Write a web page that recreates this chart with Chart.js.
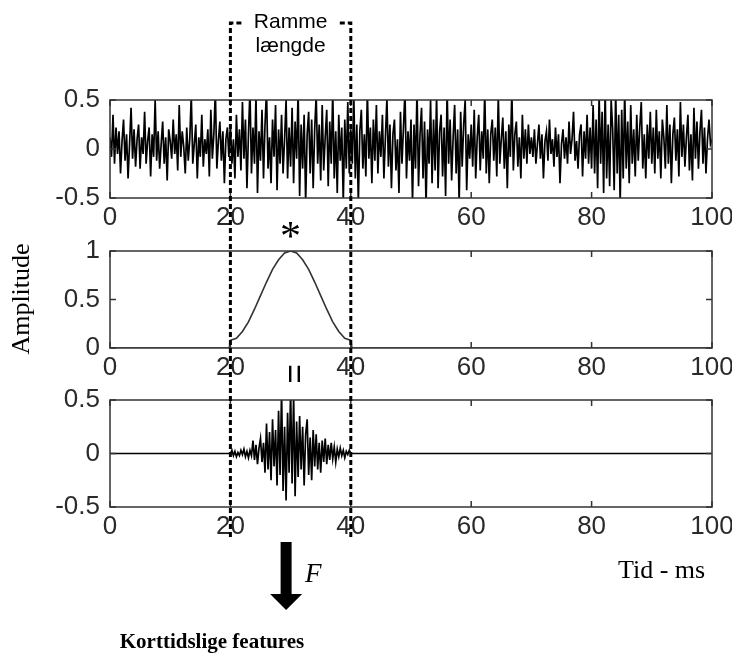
<!DOCTYPE html>
<html><head><meta charset="utf-8">
<script src="https://cdn.jsdelivr.net/npm/chart.js@4/dist/chart.umd.min.js"></script>
<style>
html,body{margin:0;padding:0;background:#fff;}
#wrap{position:relative;width:732px;height:653px;overflow:hidden;background:#fff;}
#wrap canvas{position:absolute;left:0;top:0;}
</style></head><body>
<div id="wrap">
<canvas id="c1" width="732" height="653"></canvas>
<canvas id="c2" width="732" height="653"></canvas>
<canvas id="c3" width="732" height="653"></canvas>
</div>
<script>
// ---- data ----
const xTicks = [0, 20, 40, 60, 80, 100];
const sampleStep = 0.25; // ms between samples
// top panel: speech-like noise signal, samples every 0.25 ms from 0 to 100 ms
const signalValues = [
 0.12,-0.08,0.35,-0.15,0.22,-0.05,0.18,-0.25,0.08,0.30,-0.12,0.15,-0.30,0.05,0.42,-0.10,0.20,-0.18,0.10,0.25,
 -0.20,0.12,-0.05,0.38,-0.15,0.08,0.22,-0.28,0.15,-0.08,0.50,-0.12,0.18,-0.20,0.05,0.28,-0.15,0.12,-0.32,0.20,
 0.08,-0.10,0.30,-0.05,0.15,-0.22,0.45,-0.08,0.18,0.02,-0.25,0.22,-0.12,0.10,0.55,-0.15,0.05,0.25,-0.30,0.12,
 -0.08,0.35,-0.18,0.10,-0.05,0.20,-0.28,0.40,-0.10,0.15,0.60,-0.20,0.08,0.28,-0.12,0.18,-0.35,0.10,0.22,-0.08,
 0.25,-0.15,0.10,-0.30,0.35,-0.08,0.20,-0.22,0.48,-0.10,0.30,-0.40,0.15,0.60,-0.25,0.22,-0.15,0.55,-0.45,0.18,
 -0.12,0.40,-0.30,0.25,0.60,-0.20,0.12,-0.35,0.30,-0.08,0.45,-0.42,0.20,-0.15,0.35,-0.25,0.10,0.50,-0.30,0.22,
 -0.18,0.42,-0.35,0.28,-0.10,0.60,-0.48,0.25,-0.20,0.35,-0.55,0.15,0.38,-0.25,0.30,-0.40,0.20,0.55,-0.15,0.25,
 -0.32,0.45,-0.22,0.12,0.40,-0.38,0.28,-0.15,0.60,-0.30,0.18,-0.45,0.35,-0.12,0.22,-0.55,0.30,-0.20,0.48,-0.25,
 0.20,-0.15,0.55,-0.30,0.25,-0.55,0.18,0.40,-0.20,0.15,-0.28,0.60,-0.10,0.22,-0.35,0.30,-0.12,0.45,-0.25,0.18,
 -0.08,0.35,-0.30,0.12,0.52,-0.18,0.25,-0.40,0.15,0.30,-0.22,0.10,-0.45,0.38,-0.15,0.22,0.60,-0.30,0.18,-0.12,
 0.30,-0.55,0.25,-0.20,0.60,-0.38,0.15,0.42,-0.30,0.28,-0.58,0.20,-0.15,0.50,-0.35,0.30,-0.22,0.55,-0.40,0.18,
 0.35,-0.28,0.22,-0.48,0.60,-0.15,0.30,-0.32,0.12,0.45,-0.25,0.20,-0.55,0.38,-0.18,0.25,0.50,-0.42,0.15,-0.10,
 0.25,-0.18,0.40,-0.30,0.12,0.35,-0.22,0.18,-0.10,0.60,-0.25,0.20,-0.35,0.15,0.30,-0.12,0.22,-0.28,0.55,-0.15,
 0.10,0.32,-0.20,0.18,-0.40,0.25,-0.08,0.60,-0.22,0.15,0.28,-0.18,0.12,-0.30,0.35,-0.10,0.20,-0.15,0.25,-0.05,
 0.12,-0.08,0.20,-0.15,0.05,0.25,-0.10,0.15,-0.30,0.08,0.18,-0.12,0.30,-0.05,0.10,-0.18,0.22,-0.08,0.15,-0.35,
 0.05,0.20,-0.10,0.12,-0.15,0.28,-0.05,0.10,0.38,-0.12,0.08,-0.20,0.15,0.25,-0.28,0.18,-0.10,0.35,-0.15,0.22,
 -0.20,0.45,-0.25,0.30,-0.40,0.55,-0.15,0.38,-0.45,0.60,-0.30,0.25,-0.38,0.50,0.20,-0.42,0.60,-0.25,0.35,-0.55,
 0.40,-0.30,0.60,-0.20,0.28,-0.35,0.45,-0.15,0.20,-0.28,0.35,-0.12,0.22,0.48,-0.20,0.15,-0.30,0.25,-0.10,0.38,
 -0.15,0.22,-0.25,0.40,-0.10,0.18,-0.30,0.30,0.12,-0.20,0.45,-0.15,0.25,-0.35,0.15,0.32,-0.12,0.20,-0.28,0.48,
 -0.08,0.25,-0.18,0.12,0.35,-0.22,0.15,-0.32,0.42,-0.10,0.28,-0.20,0.18,0.40,-0.15,0.22,-0.25,0.10,0.30,0.05,
 0.10
];
// middle panel: analysis window (Hamming-like), time in ms and amplitude
const windowTimes  = [0, 19.8, 20, 21, 22, 23, 24, 25, 26, 27, 28, 29, 30, 31, 32, 33, 34, 35, 36, 37, 38, 39, 40, 40.2, 100];
const windowValues = [0, 0, 0.08, 0.10, 0.17, 0.27, 0.40, 0.54, 0.68, 0.81, 0.91, 0.98, 1.00, 0.98, 0.91, 0.81, 0.68, 0.54, 0.40, 0.27, 0.17, 0.10, 0.08, 0, 0];
// bottom panel: windowed frame, samples every 0.25 ms from 20 to 40 ms
const frameStart = 20;
const frameValues = [
 0.00,0.03,-0.02,0.02,-0.03,0.01,-0.02,0.03,
 -0.01,0.04,-0.03,0.02,-0.04,0.03,-0.02,0.12,
 -0.06,0.08,-0.10,0.05,0.14,-0.08,0.10,-0.18,
 0.28,-0.15,0.20,-0.25,0.32,-0.12,0.22,-0.30,
 0.40,-0.20,0.58,-0.35,0.25,-0.44,0.38,-0.18,
 0.60,-0.28,0.55,-0.40,0.30,-0.22,0.35,-0.15,
 0.25,-0.30,0.18,0.32,-0.20,0.15,-0.25,0.22,
 -0.12,0.18,-0.15,0.10,-0.18,0.12,-0.08,0.14,
 -0.10,0.08,-0.06,0.10,-0.05,0.06,-0.08,0.04,
 -0.03,0.05,-0.02,0.03,-0.04,0.02,-0.01,0.03,
 0.00
];
const axisStart = 0, axisEnd = 100;

// ---- build point lists ----
const signalPoints = signalValues.map((v, i) => ({x: i * sampleStep, y: v}));
const windowPoints = windowTimes.map((t, i) => ({x: t, y: windowValues[i]}));
const framePoints = [{x: axisStart, y: 0}]
  .concat(frameValues.map((v, i) => ({x: frameStart + i * sampleStep, y: v})))
  .concat([{x: axisEnd, y: 0}]);

const TICK_FONT = {family: "'Liberation Sans', Arial, sans-serif", size: 26};
const TICK_COLOR = '#2a2a2a';

const boxPlugin = {
  id: 'box',
  afterDatasetsDraw(chart) {
    const {ctx, chartArea: a, scales: {x, y}} = chart;
    ctx.save();
    ctx.strokeStyle = '#333';
    ctx.lineWidth = 1.5;
    ctx.strokeRect(a.left, a.top, a.right - a.left, a.bottom - a.top);
    ctx.beginPath();
    x.ticks.forEach(t => {
      const p = x.getPixelForValue(t.value);
      ctx.moveTo(p, a.bottom); ctx.lineTo(p, a.bottom - 6);
      ctx.moveTo(p, a.top); ctx.lineTo(p, a.top + 6);
    });
    y.ticks.forEach(t => {
      const p = y.getPixelForValue(t.value);
      ctx.moveTo(a.left, p); ctx.lineTo(a.left + 6, p);
      ctx.moveTo(a.right, p); ctx.lineTo(a.right - 6, p);
    });
    ctx.stroke();
    ctx.restore();
  }
};

const overlayPlugin = {
  id: 'overlay',
  afterDraw(chart) {
    const {ctx, scales: {x}} = chart;
    const xl = x.getPixelForValue(20), xr = x.getPixelForValue(40);
    const topY = 23, botY = 537;
    ctx.save();
    // dashed frame
    ctx.strokeStyle = '#000';
    ctx.lineWidth = 3;
    ctx.setLineDash([5, 3]);
    ctx.beginPath();
    ctx.moveTo(xl, botY); ctx.lineTo(xl, topY); ctx.lineTo(xl + 13, topY);
    ctx.moveTo(xr - 11, topY); ctx.lineTo(xr, topY); ctx.lineTo(xr, botY);
    ctx.stroke();
    ctx.setLineDash([]);
    const cx = (xl + xr) / 2;
    ctx.fillStyle = '#000';
    ctx.textAlign = 'center';
    ctx.textBaseline = 'alphabetic';
    ctx.font = "21px 'Liberation Sans', Arial, sans-serif";
    ctx.fillText('Ramme', cx, 28);
    ctx.fillText('længde', cx, 52);
    // asterisk
    ctx.font = "42px 'Liberation Serif', 'Times New Roman', serif";
    ctx.fillText('*', cx, 250);
    // rotated equals
    ctx.save();
    ctx.translate(cx + 1, 374);
    ctx.rotate(Math.PI / 2);
    ctx.font = "33px 'Liberation Sans', Arial, sans-serif";
    ctx.textBaseline = 'middle';
    ctx.fillText('=', 0, 0);
    ctx.restore();
    // y label
    ctx.save();
    ctx.translate(29, 299);
    ctx.rotate(-Math.PI / 2);
    ctx.font = "26px 'Liberation Serif', 'Times New Roman', serif";
    ctx.textBaseline = 'alphabetic';
    ctx.fillText('Amplitude', 0, 0);
    ctx.restore();
    // x label
    ctx.textAlign = 'left';
    ctx.font = "26px 'Liberation Serif', 'Times New Roman', serif";
    ctx.fillText('Tid - ms', 618, 578);
    // arrow
    const ax = cx - 4.5;
    ctx.fillRect(ax - 5.5, 542, 11, 53);
    ctx.beginPath();
    ctx.moveTo(ax - 16, 594); ctx.lineTo(ax + 16, 594); ctx.lineTo(ax, 610); ctx.closePath();
    ctx.fill();
    ctx.font = "italic 27px 'Liberation Serif', 'Times New Roman', serif";
    ctx.fillText('F', 305, 582);
    ctx.textAlign = 'center';
    ctx.font = "bold 21px 'Liberation Serif', 'Times New Roman', serif";
    ctx.fillText('Korttidslige features', 212, 648);
    ctx.restore();
  }
};

function makePanel(id, dataset, yMin, yMax, top, bottom, extra) {
  return new Chart(document.getElementById(id), {
    type: 'line',
    data: {datasets: [dataset]},
    options: {
      responsive: false,
      animation: false,
      devicePixelRatio: 1,
      events: [],
      layout: {padding: {top: top, bottom: 653 - bottom - 40, left: 0, right: 20}},
      plugins: {legend: {display: false}, tooltip: {enabled: false}},
      elements: {point: {radius: 0}, line: {tension: 0}},
      scales: {
        x: {
          type: 'linear', min: axisStart, max: axisEnd,
          afterBuildTicks: s => { s.ticks = xTicks.map(v => ({value: v})); },
          ticks: {font: TICK_FONT, color: TICK_COLOR, padding: 4, maxRotation: 0, autoSkip: false},
          grid: {display: false, drawTicks: false},
          border: {display: false},
          afterFit: s => { s.height = 40; s.paddingLeft = 0; s.paddingRight = 0; }
        },
        y: {
          min: yMin, max: yMax,
          ticks: {stepSize: 0.5, font: TICK_FONT, color: TICK_COLOR, padding: 10,
                  callback: v => String(v)},
          grid: {display: false, drawTicks: false},
          border: {display: false},
          afterFit: s => { s.width = 110; s.paddingTop = 0; s.paddingBottom = 0; }
        }
      }
    },
    plugins: [boxPlugin].concat(extra || [])
  });
}

makePanel('c1', {data: signalPoints, borderColor: '#000', borderWidth: 1.7, pointRadius: 0}, -0.5, 0.5, 100, 198);
makePanel('c2', {data: windowPoints, borderColor: '#333', borderWidth: 1.6, pointRadius: 0}, 0, 1, 251, 348);
makePanel('c3', {data: framePoints, borderColor: '#000', borderWidth: 1.7, pointRadius: 0}, -0.5, 0.5, 400, 507, [overlayPlugin]);
</script>
</body></html>
